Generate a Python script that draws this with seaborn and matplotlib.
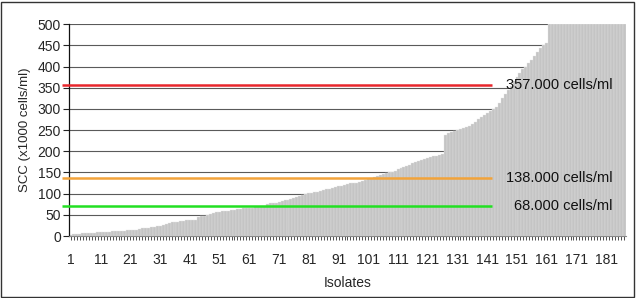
import pandas as pd
import matplotlib
matplotlib.use("Agg")
import matplotlib.pyplot as plt
import seaborn as sns

# SCC per isolate, sorted ascending (x1000 cells/ml), capped at 500
scc = [
    3, 4, 5, 5, 6, 7, 7, 8, 8, 9,
    9, 10, 10, 10, 11, 11, 12, 13, 13, 14,
    14, 15, 15, 16, 18, 19, 20, 21, 22, 23,
    24, 27, 29, 30, 32, 33, 34, 35, 36, 37,
    37, 38, 38, 45, 47, 48, 50, 52, 54, 56,
    57, 58, 59, 60, 61, 62, 63, 64, 65, 65,
    66, 67, 68, 68, 70, 72, 75, 77, 78, 79,
    80, 82, 84, 85, 87, 90, 92, 94, 97, 100,
    101, 102, 103, 104, 106, 108, 110, 112, 113, 115,
    117, 119, 121, 122, 124, 125, 126, 128, 130, 132,
    134, 137, 140, 142, 144, 146, 148, 150, 152, 154,
    157, 160, 162, 165, 168, 172, 175, 178, 180, 182,
    184, 186, 188, 190, 191, 193, 238, 242, 245, 248,
    250, 252, 255, 258, 260, 264, 268, 275, 280, 285,
    290, 295, 300, 305, 315, 325, 335, 345, 355, 365,
    375, 385, 395, 400, 408, 415, 425, 435, 443, 450,
    455, 500, 500, 500, 500, 500, 500, 500, 500, 500,
    500, 500, 500, 500, 500, 500, 500, 500, 500, 500,
    500, 500, 500, 500, 500, 500, 500,
]
isolates = list(range(1, len(scc) + 1))

# umbrales
thresholds = [357, 138, 70]
threshold_labels = ["357.000 cells/ml", "138.000 cells/ml", "68.000 cells/ml"]
threshold_colors = ["#e8262c", "#f2a33a", "#22e022"]

df = pd.DataFrame({"isolate": isolates, "scc": scc})

sns.set_style("white")
plt.rcParams["font.family"] = ["Liberation Sans", "DejaVu Sans"]

fig = plt.figure(figsize=(6.37, 2.98), dpi=100)
ax = fig.add_axes([0.109, 0.208, 0.873, 0.711])

sns.barplot(data=df, x="isolate", y="scc", color="#c4c4c4", saturation=1,
            width=1.0, edgecolor="#e4e4e4", linewidth=0.25, ax=ax, zorder=2)

ax.set_ylim(0, 500)
ax.set_xlim(-0.5, len(scc) - 0.5)
ax.set_yticks(range(0, 501, 50))
ax.yaxis.grid(True, color="#5a5a5a", linewidth=0.8, zorder=0)
ax.set_axisbelow(True)

ax.set_xticks(range(len(scc)))
ax.set_xticklabels([str(i) if (i - 1) % 10 == 0 else "" for i in isolates])
ax.tick_params(axis="x", length=3, width=0.6, color="#333333", labelsize=10, pad=9)
ax.tick_params(axis="y", length=4, width=0.8, color="#222222", labelsize=10, pad=2)
ax.tick_params(axis="both", direction="out", bottom=True, left=True)

for side in ["top", "right"]:
    ax.spines[side].set_visible(False)
ax.spines["left"].set_color("#111111")
ax.spines["bottom"].set_color("#888888")
ax.spines["left"].set_linewidth(0.9)

for y, lab, col in zip(thresholds, threshold_labels, threshold_colors):
    ax.hlines(y, -3, 141.6, color=col, linewidth=1.8, zorder=4, clip_on=False)
    ax.text(182.2, y, lab, ha="right", va="center", fontsize=10.5,
            color="#111111", zorder=5)

ax.set_xlabel("Isolates", fontsize=10, labelpad=7)
ax.set_ylabel("SCC (x1000 cells/ml)", fontsize=9.5, labelpad=5)

# marco exterior
fig.patches.append(plt.Rectangle((0.002, 0.004), 0.994, 0.99, transform=fig.transFigure,
                                 fill=False, edgecolor="#333333", linewidth=1.0))

fig.savefig("out.png", dpi=100)
